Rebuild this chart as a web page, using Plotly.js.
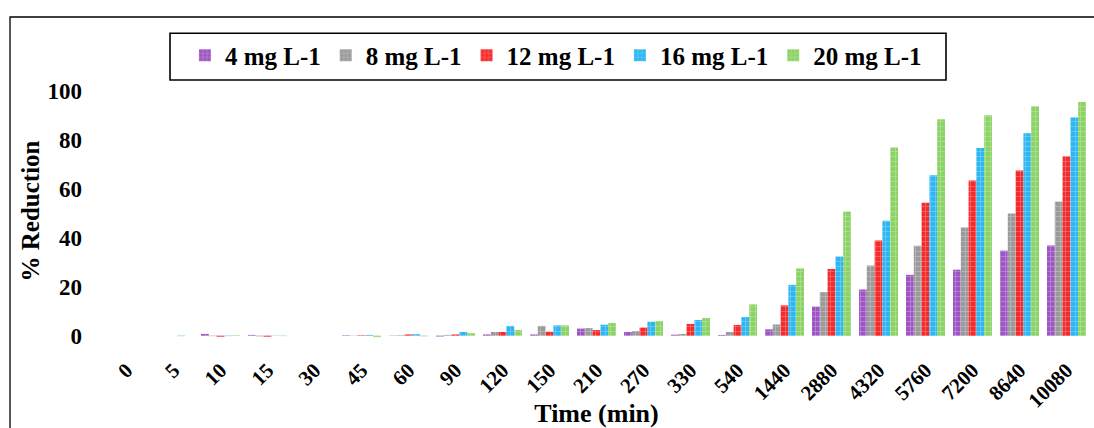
<!DOCTYPE html>
<html>
<head>
<meta charset="utf-8">
<script src="https://cdn.plot.ly/plotly-3.0.1.min.js"></script>
<style>html,body{margin:0;padding:0;background:#fff;}#chart{width:1094px;height:428px;}</style>
</head>
<body>
<div id="chart"></div>
<script>
const times = ['0','5','10','15','30','45','60','90','120','150','210','270','330','540','1440','2880','4320','5760','7200','8640','10080'];
const seriesNames = ['4 mg L-1','8 mg L-1','12 mg L-1','16 mg L-1','20 mg L-1'];
const c4  = [0, 0, 0.7, 0.3, 0, 0.2, 0.1, -0.4, 0.5, 0.5, 2.9, 1.5, 0.4, 0.3, 2.6, 11.9, 18.9, 24.9, 27.0, 34.8, 36.9];
const c8  = [0, 0, -0.2, -0.3, 0, -0.1, 0.2, 0.3, 1.5, 4.0, 3.1, 1.9, 0.7, 1.5, 4.6, 17.8, 28.7, 36.8, 44.3, 50.0, 54.9];
const c12 = [0, 0, -0.5, -0.5, 0, 0.2, 0.5, 0.5, 1.5, 1.6, 2.3, 3.3, 4.8, 4.4, 12.4, 27.3, 38.9, 54.4, 63.5, 67.6, 73.4];
const c16 = [0, -0.2, -0.2, 0.1, 0, 0.3, 0.6, 1.5, 4.0, 4.2, 4.5, 5.7, 6.4, 7.6, 20.8, 32.4, 47.0, 65.6, 76.8, 82.8, 89.3];
const c20 = [0, 0, 0.2, -0.2, 0, -0.6, -0.3, 1.0, 2.3, 4.2, 5.2, 6.0, 7.2, 12.8, 27.5, 50.8, 77.0, 88.5, 90.2, 93.9, 95.6];
const yTicks = [0, 20, 40, 60, 80, 100];

const allValues = [c4, c8, c12, c16, c20];
const colors = ['#9E55C3', '#9A9A9A', '#F52A2A', '#2DB6F2', '#8BD364'];
const FONT = 'Liberation Serif, Times New Roman, serif';

const traces = allValues.map((vals, i) => ({
  type: 'bar',
  name: seriesNames[i],
  x: times,
  y: vals,
  marker: {
    color: colors[i],
    line: {width: 0},
    pattern: {shape: '+', fgcolor: '#ffffff', fgopacity: 0.35, size: 5, solidity: 0.25, fillmode: 'overlay'}
  }
}));

const layout = {
  width: 1094, height: 428,
  margin: {l: 103, r: 4, t: 79, b: 85},
  paper_bgcolor: '#ffffff', plot_bgcolor: '#ffffff',
  barmode: 'group', bargap: 0.17, bargroupgap: 0,
  font: {family: FONT, color: '#000', size: 20, weight: 700},
  showlegend: true,
  legend: {
    orientation: 'h', x: 0.083, xanchor: 'left', y: 1.1757, yanchor: 'top',
    borderwidth: 0, bgcolor: 'rgba(0,0,0,0)',
    font: {family: FONT, size: 25, color: '#000', weight: 700},
    itemwidth: 30, traceorder: 'normal'
  },
  xaxis: {
    type: 'category', tickangle: -45, showgrid: false, zeroline: false, showline: false,
    ticks: '', ticklabelstandoff: 10, tickfont: {family: FONT, size: 21, weight: 700},
    title: {text: 'Time (min)', font: {family: FONT, size: 26, weight: 700}, standoff: 2},
    fixedrange: true
  },
  yaxis: {
    range: [-3, 105], tickvals: yTicks, ticktext: yTicks.map(String),
    showgrid: false, zeroline: false, showline: false, ticks: '',
    ticklabelstandoff: 20,
    tickfont: {family: FONT, size: 23, weight: 700},
    title: {text: '% Reduction', font: {family: FONT, size: 25, weight: 700}, standoff: 0},
    fixedrange: true
  },
  shapes: [{
    type: 'rect', xref: 'paper', yref: 'paper',
    x0: -0.0942, x1: 1.3, y0: -0.6, y1: 1.2348,
    line: {color: '#000', width: 1.3}, fillcolor: 'rgba(0,0,0,0)', layer: 'above'
  }, {
    type: 'rect', xref: 'paper', yref: 'paper',
    x0: 0.0679, x1: 0.8541, y0: 0.9962, y1: 1.1731,
    line: {color: '#000', width: 1.6}, fillcolor: 'rgba(0,0,0,0)', layer: 'above'
  }]
};

Plotly.newPlot('chart', traces, layout, {displayModeBar: false, staticPlot: true});
</script>
</body>
</html>
